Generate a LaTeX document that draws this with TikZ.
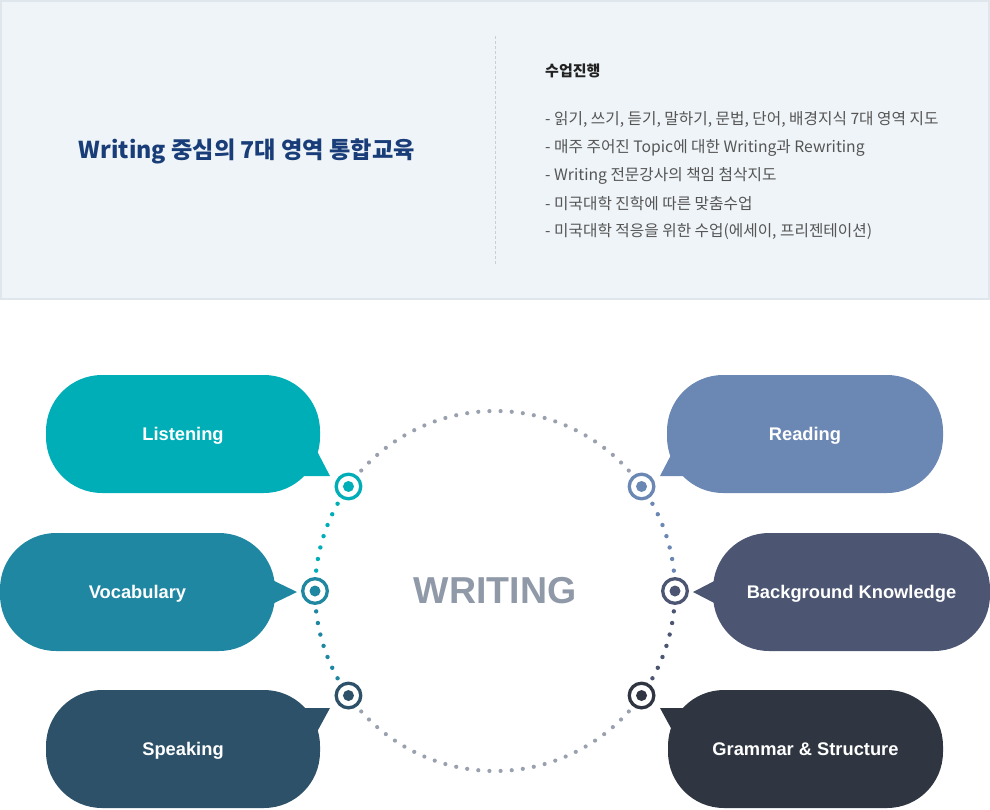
\documentclass[tikz,border=0pt]{standalone}
\usepackage{fontspec}
\setmainfont{Liberation Sans}
\newfontfamily\krfont{Noto Sans CJK KR}
\definecolor{panelbg}{HTML}{EFF4F8}
\definecolor{panelline}{HTML}{DFE6EC}
\definecolor{divider}{HTML}{C9CFD6}
\definecolor{titlecol}{HTML}{193D78}
\definecolor{headcol}{HTML}{222222}
\definecolor{bulletcol}{HTML}{555555}
\definecolor{cListen}{HTML}{00AEB8}
\definecolor{cVocab}{HTML}{1F87A1}
\definecolor{cSpeak}{HTML}{2C5169}
\definecolor{cRead}{HTML}{6B87B4}
\definecolor{cBack}{HTML}{4C5673}
\definecolor{cGram}{HTML}{2F3641}
\definecolor{dotgray}{HTML}{9AA1AE}
\definecolor{writecol}{HTML}{8F99A8}
\begin{document}
\begin{tikzpicture}[x=1pt,y=-1pt,
  bubble/.style={rectangle, rounded corners=56pt, minimum height=118pt, inner sep=0pt,
    fill=#1, text=white, text depth=0pt, font=\bfseries\fontsize{18.3}{22}\selectfont},
  ring/.style={circle, draw=#1, line width=3.3pt, fill=white, minimum size=24.6pt, inner sep=0pt,
    path picture={\fill[#1] (path picture bounding box.center) circle (5.5pt);}},
  bullet/.style={anchor=west, inner sep=0pt, text=bulletcol, font=\krfont\fontsize{15.7}{18}\selectfont},
  tail/.style={fill=#1}
]
\useasboundingbox (0,0) rectangle (990,809);
% top panel
\fill[panelbg] (0,0) rectangle (990,300);
\draw[panelline, line width=2pt] (1,1) rectangle (989,299);
\coordinate (divtop) at (495,36);
\coordinate (divbot) at (495,265);
\draw[divider, line width=0.8pt, dash pattern=on 3pt off 2pt] (divtop) -- (divbot);
\node[inner sep=0pt, text=titlecol, font=\krfont\bfseries\fontsize{23.2}{28}\selectfont] (title) at (247,151) {Writing 중심의 7대 영역 통합교육};
\node[anchor=west, inner sep=0pt, text=headcol, font=\krfont\bfseries\fontsize{15}{18}\selectfont] (head) at (545,71) {수업진행};
\node[bullet] (b1) at (545,119.5) {- 읽기, 쓰기, 듣기, 말하기, 문법, 단어, 배경지식 7대 영역 지도};
\node[bullet] (b2) at (545,147.5) {- 매주 주어진 Topic에 대한 Writing과 Rewriting};
\node[bullet] (b3) at (545,175.5) {- Writing 전문강사의 책임 첨삭지도};
\node[bullet] (b4) at (545,203.5) {- 미국대학 진학에 따른 맞춤수업};
\node[bullet] (b5) at (545,231.5) {- 미국대학 적응을 위한 수업(에세이, 프리젠테이션)};
% circle of dots
\coordinate (ctr) at (495,591);
\foreach \i in {0,...,27} {\fill[dotgray] ([shift={({42+\i*96/27}:180pt)}]ctr) circle (2.1pt);}
\foreach \i in {0,...,27} {\fill[dotgray] ([shift={({222+\i*96/27}:180pt)}]ctr) circle (2.1pt);}
\foreach \i in {0,...,6} {\fill[cListen] ([shift={({151+\i*3.75}:180pt)}]ctr) circle (2.2pt);}
\foreach \i in {0,...,6} {\fill[cVocab] ([shift={({186.5+\i*3.75}:180pt)}]ctr) circle (2.2pt);}
\foreach \i in {0,...,6} {\fill[cBack] ([shift={({331+\i*3.75}:180pt)}]ctr) circle (2.2pt);}
\foreach \i in {0,...,6} {\fill[cRead] ([shift={({6.5+\i*3.75}:180pt)}]ctr) circle (2.2pt);}
\node[text=writecol, font=\bfseries\fontsize{37.5}{40}\selectfont, inner sep=0pt] (writing) at (495,591) {WRITING};
% bubbles
\fill[tail=cListen] (298,476) -- (330,476) -- (313.5,444.4) -- cycle;
\node[bubble=cListen, minimum width=274pt] (listen) at (183,434) {Listening};
\fill[tail=cRead] (692,476) -- (660,476) -- (676.5,444.4) -- cycle;
\node[bubble=cRead, minimum width=276pt] (read) at (805,434) {Reading};
\fill[tail=cVocab] (265,576.5) -- (297,592) -- (265,607.5) -- cycle;
\node[bubble=cVocab, minimum width=275pt] (vocab) at (137.5,592) {Vocabulary};
\fill[tail=cBack] (723,576.5) -- (693,592) -- (723,607.5) -- cycle;
\node[bubble=cBack, minimum width=277pt] (back) at (851.5,592) {Background Knowledge};
\fill[tail=cSpeak] (298,708) -- (330,708) -- (313.5,738.3) -- cycle;
\node[bubble=cSpeak, minimum width=274pt] (speak) at (183,749) {Speaking};
\fill[tail=cGram] (692,708) -- (660,708) -- (676.5,738.3) -- cycle;
\node[bubble=cGram, minimum width=275pt] (gram) at (805.5,749) {Grammar \& Structure};
% markers
\node[ring=cListen] (mListen) at ([shift={(144.5:180pt)}]ctr) {};
\node[ring=cVocab] (mVocab) at ([shift={(180:180pt)}]ctr) {};
\node[ring=cSpeak] (mSpeak) at ([shift={(215.5:180pt)}]ctr) {};
\node[ring=cRead] (mRead) at ([shift={(35.5:180pt)}]ctr) {};
\node[ring=cBack] (mBack) at ([shift={(0:180pt)}]ctr) {};
\node[ring=cGram] (mGram) at ([shift={(-35.5:180pt)}]ctr) {};
\end{tikzpicture}
\end{document}
